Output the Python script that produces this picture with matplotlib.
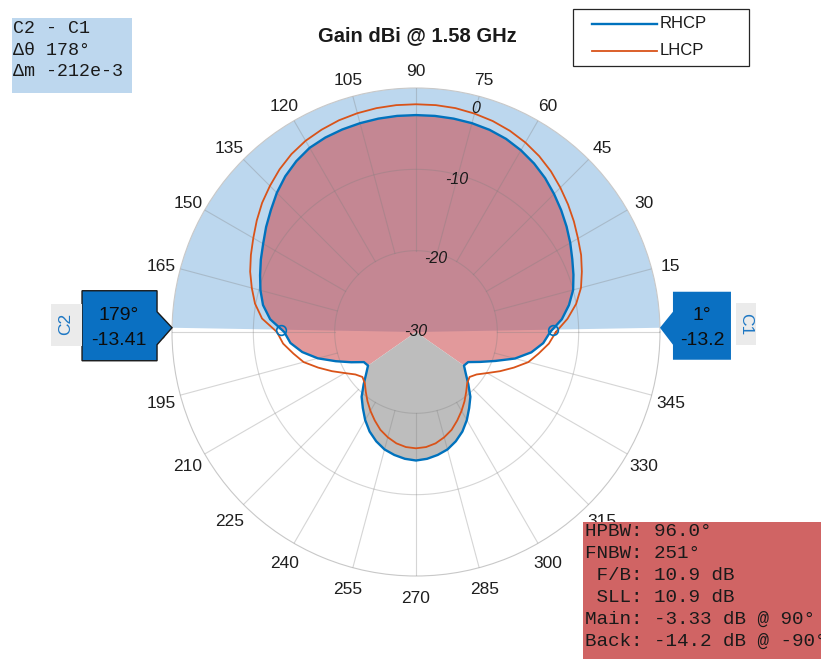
import numpy as np
import matplotlib.pyplot as plt
from matplotlib.patches import Polygon, Rectangle
from matplotlib.lines import Line2D
from matplotlib.transforms import offset_copy

plt.rcParams['font.family'] = ['Liberation Sans', 'DejaVu Sans']

W, H = 821, 659

# pattern cut, 5 deg steps, gain in dBi
angles = np.arange(0, 360, 5)
rhcp = [-13.5, -12.0, -10.9, -10.0, -9.4, -8.8, -8.1, -7.4, -6.7, -6.0,
        -5.3, -4.7, -4.2, -3.8, -3.55, -3.42, -3.36, -3.33, -3.33, -3.33,
        -3.36, -3.42, -3.5, -3.62, -3.85, -4.35, -5.0, -5.8, -6.7, -7.5,
        -8.3, -8.95, -9.6, -10.2, -10.9, -12.0, -13.8,
        -14.5, -15.8, -17.5, -19.5, -21.2, -22.6, -22.8, -22.0, -20.9,
        -19.6, -18.6, -17.5, -16.5, -15.7, -15.05, -14.65, -14.35, -14.2,
        -14.35, -14.65, -15.05, -15.7, -16.5, -17.5, -18.6, -19.6, -20.9,
        -22.0, -22.8, -22.6, -21.3, -19.6, -17.4, -15.6, -14.3]
lhcp = [-12.8, -11.3, -10.0, -9.0, -8.3, -7.6, -7.0, -6.3, -5.6, -4.9,
        -4.2, -3.6, -3.1, -2.7, -2.4, -2.2, -2.05, -2.0, -2.0, -2.0,
        -2.05, -2.15, -2.3, -2.55, -2.85, -3.3, -3.9, -4.6, -5.3, -6.1,
        -6.9, -7.6, -8.3, -9.1, -9.9, -11.0, -12.9,
        -13.6, -14.7, -15.7, -17.2, -18.6, -19.9, -20.9, -21.4, -21.1,
        -20.4, -19.6, -18.8, -18.0, -17.2, -16.6, -16.1, -15.8, -15.7,
        -15.8, -16.1, -16.6, -17.2, -18.0, -18.8, -19.6, -20.4, -21.1,
        -21.4, -20.9, -19.9, -18.6, -17.2, -15.7, -14.7, -13.6]

cursor_ang = [1, 179]
cursor_val = [-13.2, -13.41]
cursor_names = ['C1', 'C2']

null_ang = [215, 325]      # main lobe first nulls
tick_ang = np.arange(0, 360, 15)
rings = [-30, -20, -10, 0]
ring_off = [0.0, 0.6, 0.6, 1.5]

delta_txt = ['C2 - C1', 'Δθ 178°', 'Δm -212e-3']
stats_txt = ['HPBW: 96.0°', 'FNBW: 251°', ' F/B: 10.9 dB', ' SLL: 10.9 dB',
             'Main: -3.33 dB @ 90°', 'Back: -14.2 dB @ -90°']

blue = '#0072BD'
orange = '#D95319'
tip_blue = '#0A70C2'

fig = plt.figure(figsize=(W / 100, H / 100), dpi=100)
ax = fig.add_axes([172 / W, 83 / H, 488 / W, 488 / H], projection='polar')
ax.set_rlim(-30, 0)
ax.set_xticks([])
ax.set_yticks([])
ax.grid(False)
ax.spines['polar'].set_color('#c8c8c8')
ax.spines['polar'].set_linewidth(0.8)

th = np.deg2rad(np.append(angles, 360))
r1 = np.append(rhcp, rhcp[0])
r2 = np.append(lhcp, lhcp[0])
a = np.asarray(angles)
r1a = np.asarray(rhcp)

# span between cursors
ax.bar(np.deg2rad(np.mean(cursor_ang)), 30, width=np.deg2rad(cursor_ang[1] - cursor_ang[0]),
       bottom=-30, color='#bcd7ee', linewidth=0, zorder=1)

# main lobe and back lobe shading
main = np.concatenate([np.where(a >= null_ang[1])[0], np.where(a <= null_ang[0])[0]])
ax.fill(np.append(np.deg2rad(a[main]), 0), np.append(r1a[main], -30),
        color=(203 / 255, 67 / 255, 71 / 255), alpha=0.54, lw=0, zorder=2)
back = np.where((a >= null_ang[0]) & (a <= null_ang[1]))[0]
ax.fill(np.append(np.deg2rad(a[back]), 0), np.append(r1a[back], -30),
        color='#bdbdbd', lw=0, zorder=2)

# grid: rings and spokes from the first ring outwards
tt = np.linspace(0, 2 * np.pi, 400)
for rv in rings[1:3]:
    ax.plot(tt, np.full_like(tt, rv), color='#7f7f7f', alpha=0.32, lw=0.8, zorder=3)
for t in tick_ang:
    ax.plot([np.deg2rad(t)] * 2, [-20, 0], color='#7f7f7f', alpha=0.32, lw=0.8, zorder=3)

l1, = ax.plot(th, r1, color=blue, lw=1.7, zorder=5)
l2, = ax.plot(th, r2, color=orange, lw=1.3, zorder=6)
ax.plot(np.deg2rad(cursor_ang), cursor_val, 'o', mfc='none', mec=blue, ms=7, mew=1.2, zorder=7)

lab_tr = offset_copy(ax.transData, fig=fig, x=0, y=-3, units='dots')
for t in tick_ang:
    ax.text(np.deg2rad(t), 2.4, f'{t}', ha='center', va='center', fontsize=12.5,
            color='#1f1f1f', clip_on=False, zorder=2, transform=lab_tr)
for rv, off in zip(rings, ring_off):
    ax.text(np.deg2rad(75), rv - off, f'{rv}', ha='center', va='center', fontsize=11.5,
            style='italic', color='#1a1a1a', zorder=8)

fig.text(417 / W, 1 - 36 / H, 'Gain dBi @ 1.58 GHz', ha='center', va='center',
         fontsize=14.5, weight='bold', color='#1a1a1a')


def fpt(x, y):
    return (x / W, 1 - y / H)


# legend
fig.patches.append(Rectangle(fpt(573, 66), 176 / W, 56.5 / H, transform=fig.transFigure,
                             facecolor='white', edgecolor='#262626', lw=0.9))
for line, lab, y in [(l1, 'RHCP', 24), (l2, 'LHCP', 50.7)]:
    fig.add_artist(Line2D([592 / W, 657 / W], [1 - y / H] * 2, color=line.get_color(),
                          lw=line.get_linewidth(), transform=fig.transFigure))
    fig.text(660 / W, 1 - y / H, lab, ha='left', va='center', fontsize=12, color='#1a1a1a')

# cursor data tips, anchored on the outer ring at each cursor angle
fig.canvas.draw()
for name, ang, val in zip(cursor_names, cursor_ang, cursor_val):
    tx, ty = ax.transData.transform((np.deg2rad(ang), 0))
    ty = H - ty
    if name == 'C1':
        pts = [(tx + 13, ty - 36), (tx + 71, ty - 36), (tx + 71, ty + 32), (tx + 13, ty + 32),
               (tx + 13, ty + 17), (tx, ty), (tx + 13, ty - 16)]
        cx, ec, lw = tx + 42, 'none', 0
        tab, tcx, rot = (tx + 76, ty - 25, 20, 42), tx + 86, -90
    else:
        pts = [(tx - 90, ty - 37), (tx - 15, ty - 37), (tx - 15, ty - 16), (tx, ty),
               (tx - 15, ty + 17), (tx - 15, ty + 33), (tx - 90, ty + 33)]
        cx, ec, lw = tx - 53, '#1a1a1a', 1.0
        tab, tcx, rot = (tx - 121, ty - 24, 31, 42), tx - 106, 90
    fig.patches.append(Polygon([fpt(*p) for p in pts], closed=True, transform=fig.transFigure,
                               facecolor=tip_blue, edgecolor=ec, lw=lw))
    fig.text(cx / W, 1 - (ty - 12) / H, f'{ang}°', ha='center', va='center',
             fontsize=14, color='#0d0d0d')
    fig.text(cx / W, 1 - (ty + 13) / H, f'{val:g}', ha='center', va='center',
             fontsize=14, color='#0d0d0d')
    fig.patches.append(Rectangle(fpt(tab[0], tab[1] + tab[3]), tab[2] / W, tab[3] / H,
                                 transform=fig.transFigure, facecolor='#ebebeb', lw=0))
    fig.text(tcx / W, 1 - (ty - 4) / H, name, ha='center', va='center', rotation=rot,
             fontsize=12.5, color='#1f78c4')

# cursor difference box
fig.patches.append(Rectangle(fpt(12, 93), 120 / W, 75 / H, transform=fig.transFigure,
                             facecolor='#bdd7ee', lw=0))
for i, s in enumerate(delta_txt):
    fig.text(13 / W, 1 - (28.5 + 21.7 * i) / H, s, ha='left', va='center',
             fontsize=13.2, family='Liberation Mono', color='#1a1a1a')

# antenna metrics box
fig.patches.append(Rectangle(fpt(583, 670), 250 / W, 148 / H, transform=fig.transFigure,
                             facecolor='#d06464', lw=0))
for i, s in enumerate(stats_txt):
    fig.text(585 / W, 1 - (532 + 21.9 * i) / H, s, ha='left', va='center',
             fontsize=13.9, family='Liberation Mono', color='#1a1a1a')

fig.savefig('out.png', dpi=100)
